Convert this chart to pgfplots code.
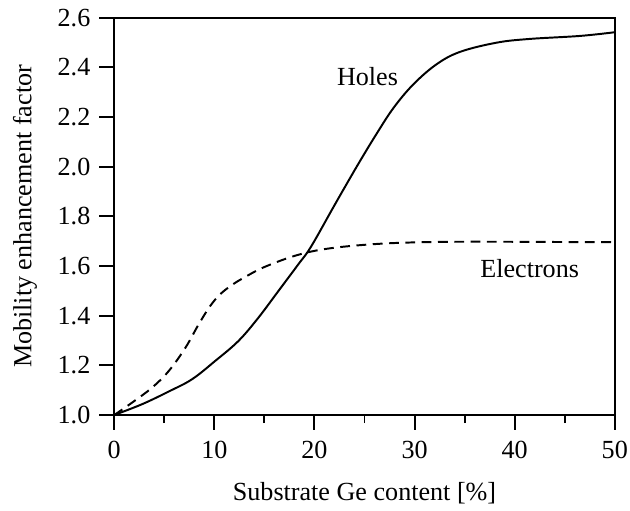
\documentclass[border=0pt]{standalone}
\usepackage{fontspec}
\setmainfont{Liberation Serif}
\usepackage{pgfplots}
\pgfplotsset{compat=1.18}
\begin{document}
\fontsize{12}{14}\selectfont
\begin{tikzpicture}
\begin{axis}[
  name=ax,
  width=230pt, height=182.5pt, scale only axis,
  xmin=0, xmax=50, ymin=1.0, ymax=2.6,
  xtick={0,10,20,30,40,50},
  minor x tick num=1,
  ytick={1.0,1.2,1.4,1.6,1.8,2.0,2.2,2.4,2.6},
  yticklabel style={/pgf/number format/.cd, fixed, fixed zerofill, precision=1},
  /pgf/number format/assume math mode=true,
  tick align=outside,
  xtick pos=bottom, ytick pos=left,
  major tick length=6.8pt, minor tick length=3.7pt,
  every tick/.style={black, line width=0.9pt},
  axis line style={line width=0.9pt},
  tick label style={font=\fontsize{12}{14}\selectfont},
  label style={font=\fontsize{12}{14}\selectfont},
  xlabel={Substrate Ge content [\%]},
  ylabel={Mobility enhancement factor},
  xlabel style={at={([yshift=-35.8pt]axis description cs:0.5,0)}, anchor=center},
  ylabel style={at={([xshift=-41pt]axis description cs:0,0.5)}, anchor=center},
  xticklabel style={yshift=-1pt},
]
\addplot[black, line width=0.9pt, smooth, tension=0.6] coordinates {
(0,1.0) (2.81,1.044) (5.46,1.095) (7.77,1.144) (10.09,1.218) (12.40,1.298)
(14.38,1.391) (16.37,1.498) (18.35,1.605) (19.67,1.679) (22.0,1.845)
(24.3,2.006) (26.3,2.139) (27.95,2.240) (29.9,2.333) (32.2,2.413)
(34.55,2.463) (38.2,2.500) (41.5,2.515) (46.5,2.527) (50,2.542)
};
\addplot[black, line width=0.9pt, dash pattern=on 4.5pt off 3pt, smooth, tension=0.6] coordinates {
(0,1.0) (1.82,1.051) (3.80,1.111) (5.46,1.178) (7.11,1.271) (8.43,1.365)
(9.6,1.440) (10.6,1.487) (11.7,1.522) (12.9,1.552) (15.05,1.597) (18.35,1.645)
(21.65,1.672) (26.6,1.690) (32,1.697) (38,1.698) (44,1.697) (50,1.696)
};
\node[font=\fontsize{12}{14}\selectfont] at (axis cs:25.3,2.364) {Holes};
\node[font=\fontsize{12}{14}\selectfont] at (axis cs:41.5,1.59) {Electrons};
\end{axis}
\pgfresetboundingbox
\path ([shift={(-52.5pt,-43.8pt)}]ax.south west) rectangle ([shift={(7pt,8.2pt)}]ax.north east);
\end{tikzpicture}
\end{document}
